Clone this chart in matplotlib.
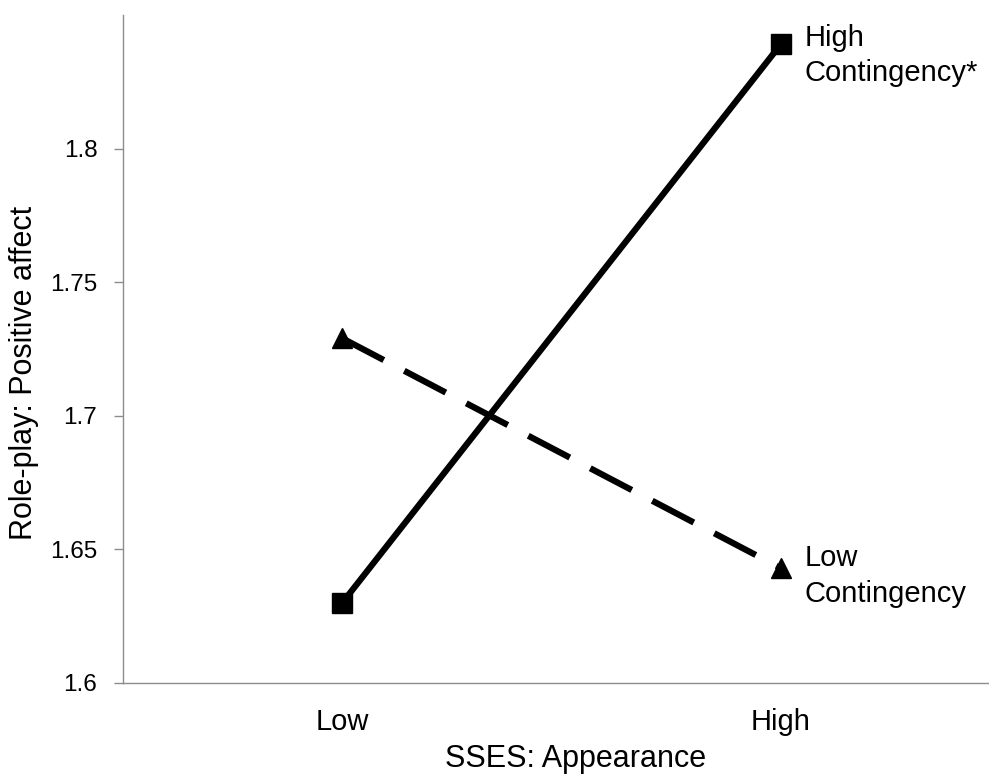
import matplotlib
matplotlib.use("Agg")
import matplotlib.pyplot as plt

# 数据
groups = ['Low', 'High']
high_cont = [1.630, 1.839]
low_cont = [1.729, 1.643]
yticks = [1.6, 1.65, 1.7, 1.75, 1.8]

plt.rcParams['font.family'] = ['Liberation Sans', 'DejaVu Sans']

fig = plt.figure(figsize=(9.89, 7.77), dpi=100)
ax = fig.add_axes([0.1244, 0.121, 0.8756, 0.8597])

x = list(range(len(groups)))

# 实线: High Contingency
ax.plot(x, high_cont, color='k', lw=4.5, marker='s', ms=14,
        solid_capstyle='butt', zorder=3)
# 虚线: Low Contingency
ax.plot(x, low_cont, color='k', lw=4.5, marker='^', ms=14,
        dashes=(7.5, 3.7), dash_capstyle='butt', zorder=3)

# 右侧文字注释
ax.annotate('High\nContingency*', xy=(x[-1], high_cont[-1]), xytext=(17, 15),
            textcoords='offset points', ha='left', va='top', fontsize=21,
            linespacing=1.32)
ax.annotate('Low\nContingency', xy=(x[-1], low_cont[-1]), xytext=(17, 17),
            textcoords='offset points', ha='left', va='top', fontsize=21,
            linespacing=1.32)

ax.set_xlim(-0.5, 1.475)
ax.set_ylim(1.6, 1.85)
ax.set_xticks(x)
ax.set_xticklabels(groups)
ax.set_yticks(yticks)
ax.set_yticklabels([f'{v:g}' for v in yticks])

ax.tick_params(axis='x', length=0, pad=18, labelsize=21)
ax.tick_params(axis='y', length=6.5, width=1, color='#8c8c8c', pad=12,
               labelsize=17.5)

for spine in ['top', 'right']:
    ax.spines[spine].set_visible(False)
for spine in ['left', 'bottom']:
    ax.spines[spine].set_color('#8c8c8c')
    ax.spines[spine].set_linewidth(1)

ax.set_xlabel('SSES: Appearance', fontsize=22)
ax.xaxis.set_label_coords(0.523, -0.092)
ax.set_ylabel('Role-play: Positive affect', fontsize=22)
ax.yaxis.set_label_coords(-0.097, 0.464)

fig.savefig('out.png', dpi=100)
